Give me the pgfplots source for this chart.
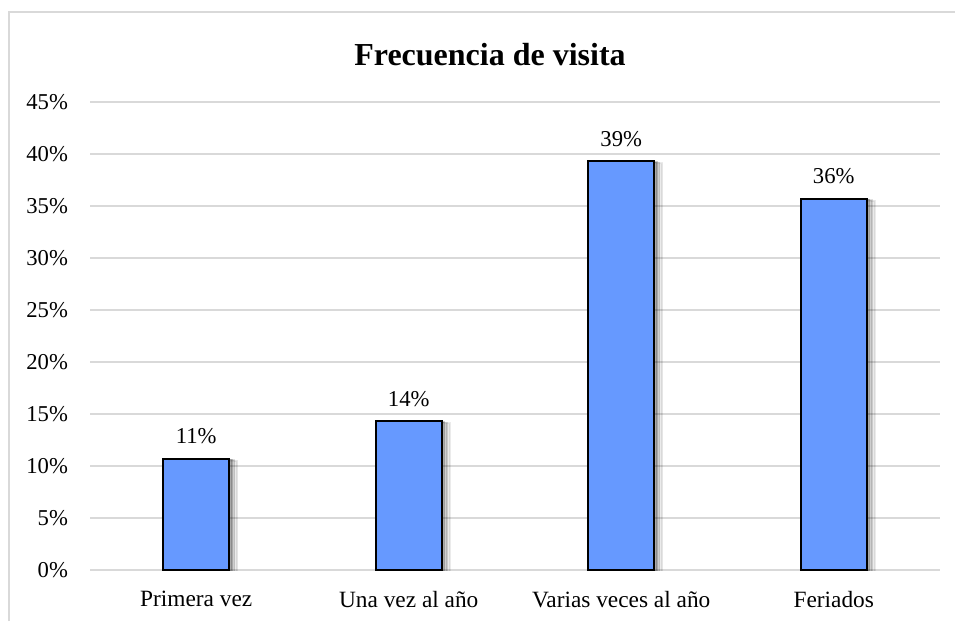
\documentclass[border=0pt]{standalone}
\usepackage{fontspec}
\setmainfont{Liberation Serif}
\usepackage{pgfplots}
\pgfplotsset{compat=1.18}
\usetikzlibrary{shadows}
\definecolor{BarBlue}{HTML}{6699FF}
\definecolor{GridGray}{HTML}{D9D9D9}

\begin{document}
\begin{tikzpicture}[x=0.75pt,y=0.75pt]
  % page size of the reference, in px (y measured upwards)
  \useasboundingbox (0,0) rectangle (955,621);
  \draw[GridGray, line width=1.5pt] (9,0) -- (9,609) -- (955,609);
  \node[font=\bfseries\fontsize{24}{28}\selectfont] at (490,566) {Frecuencia de visita};
  \begin{axis}[
      at={(67.5pt,38.25pt)}, anchor=south west,
      scale only axis,
      width=637.5pt, height=351pt,
      ybar, bar width=49.5pt,
      xmin=-0.5, xmax=3.5,
      ymin=0, ymax=45,
      ytick={0,5,...,45},
      xtick=data,
      xticklabels={Primera vez, Una vez al año, Varias veces al año, Feriados},
      yticklabel={\pgfmathprintnumber{\tick}\%},
      /pgf/number format/assume math mode=true,
      axis line style={draw=none},
      tick style={draw=none},
      ymajorgrids,
      grid style={GridGray, line width=0.9pt},
      yticklabel style={font=\fontsize{17}{19}\selectfont, xshift=-13pt},
      xticklabel style={font=\fontsize{17.5}{19}\selectfont, yshift=-8pt},
      nodes near coords={\pgfmathprintnumber[fixed,precision=0]{\pgfplotspointmeta}\%},
      every node near coord/.append style={font=\fontsize{17}{19}\selectfont, yshift=7pt},
    ]
    \addplot[draw=black, line width=1.2pt, fill=BarBlue,
      general shadow={shadow xshift=6pt, shadow yshift=-1.5pt, fill=black, opacity=0.08},
      general shadow={shadow xshift=4pt, shadow yshift=-1pt, fill=black, opacity=0.12},
      general shadow={shadow xshift=2pt, shadow yshift=-0.5pt, fill=black, opacity=0.18}]
      coordinates {(0,10.7) (1,14.3) (2,39.3) (3,35.7)};
  \end{axis}
\end{tikzpicture}
\end{document}
